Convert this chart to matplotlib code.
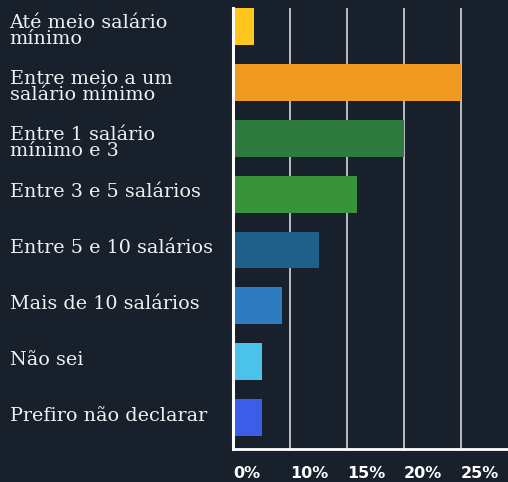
import numpy as np
import matplotlib.pyplot as plt

categories = [
    "Até meio salário\nmínimo",
    "Entre meio a um\nsalário mínimo",
    "Entre 1 salário\nmínimo e 3",
    "Entre 3 e 5 salários",
    "Entre 5 e 10 salários",
    "Mais de 10 salários",
    "Não sei",
    "Prefiro não declarar",
]
values = [1.8, 20.0, 15.0, 10.9, 7.5, 4.3, 2.5, 2.5]
colors = ["#FFC61E", "#F09A22", "#2F7A3E", "#38933A",
          "#1E6089", "#2E7BC0", "#4BC3E8", "#3B5DE8"]
tick_pos = [0, 5, 10, 15, 20]
tick_labels = ["0%", "10%", "15%", "20%", "25%"]

bg = "#18202c"

fig = plt.figure(figsize=(5.08, 4.82), dpi=100, facecolor=bg)
ax = fig.add_axes([233 / 508, 1 - 449 / 482, 1 - 233 / 508, 441 / 482])
ax.set_facecolor(bg)

y = np.arange(len(values))
ax.barh(y, values, height=0.66, color=colors, zorder=3)
ax.set_ylim(7.56, -0.33)
ax.set_xlim(0, 24.1)

for t in tick_pos[1:]:
    ax.axvline(t, color="#c5cad0", lw=1.3, zorder=1)

for s in ["top", "right"]:
    ax.spines[s].set_visible(False)
ax.spines["left"].set_color("white")
ax.spines["left"].set_linewidth(2.2)
ax.spines["left"].set_zorder(4)
ax.spines["bottom"].set_color("white")
ax.spines["bottom"].set_linewidth(2.0)

ax.set_yticks([])
ax.set_xticks(tick_pos)
ax.set_xticklabels(tick_labels, ha="left", color="white",
                   fontsize=11.5, fontweight="bold", family="DejaVu Sans")
ax.tick_params(axis="x", length=0, pad=12)

for yi, lab in zip(y, categories):
    off = 0.08 if "\n" in lab else -0.03
    ax.text(-224 / 11.44, yi + off, lab, ha="left", va="center",
            color="#f0f0f0", fontsize=13.8, family="DejaVu Serif",
            linespacing=0.88, clip_on=False)

fig.savefig("out.png", dpi=100, facecolor=bg)
